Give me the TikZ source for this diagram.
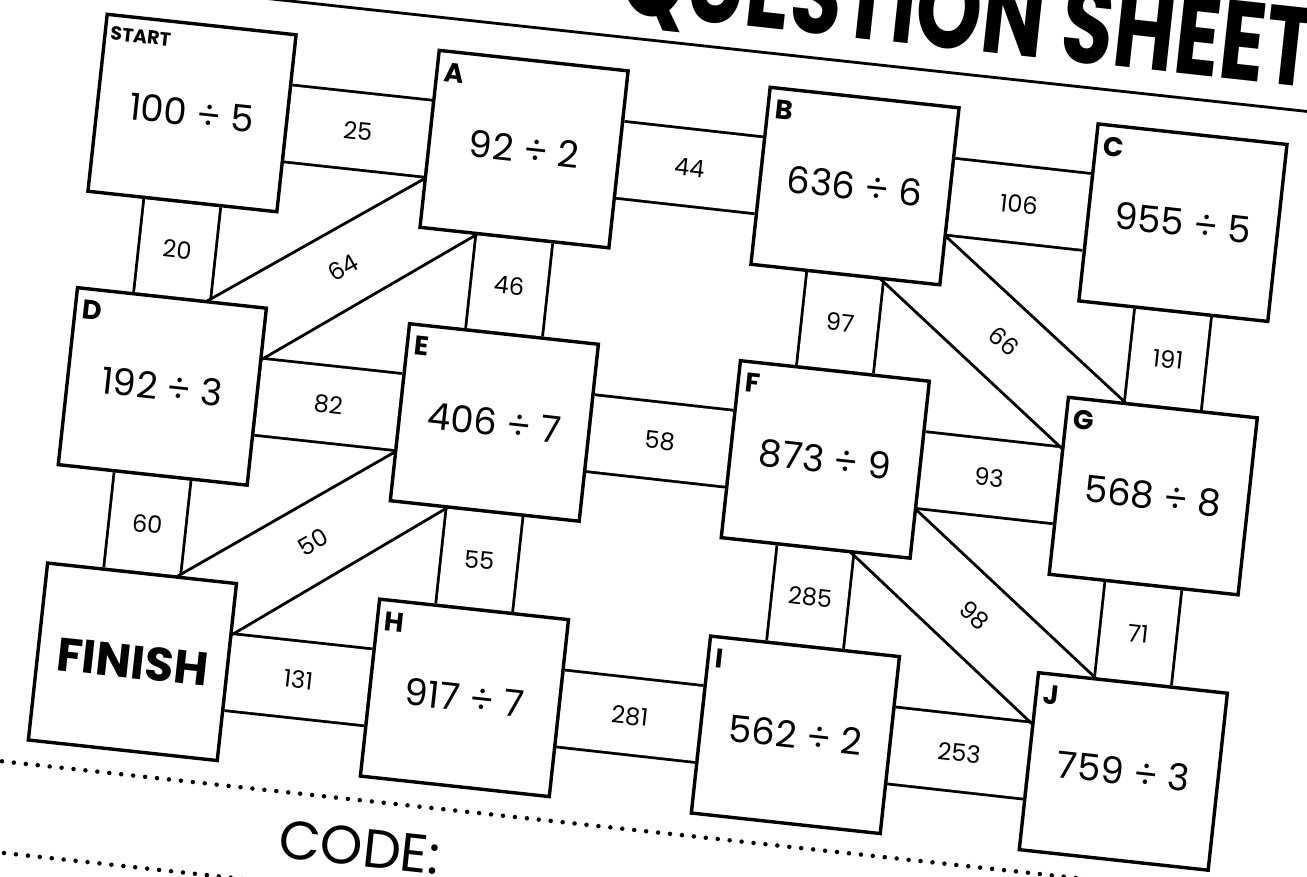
\documentclass[tikz,border=0pt]{standalone}
\usepackage{fontspec}
\setmainfont{Poppins}
\usetikzlibrary{calc, backgrounds}

\begin{document}
\begin{tikzpicture}[x=1pt, y=1pt,
  box/.style={rectangle, draw, fill=white, line width=3.4pt,
    minimum width=190pt, minimum height=178pt, inner sep=0pt,
    font=\fontsize{37}{40}\selectfont},
  tag/.style={anchor=north west, inner sep=0pt, xshift=9pt, yshift=-13pt,
    font=\bfseries\fontsize{27}{30}\selectfont},
  bar/.style={draw, line width=2.8pt, double=white, double distance=74.5pt},
  slant/.style={draw, fill=white, line width=2.8pt},
  num/.style={inner sep=0pt, font=\fontsize{24}{26}\selectfont},
  dots/.style={line width=4.5pt, line cap=round, dash pattern=on 0pt off 12pt}
]
  \path[use as bounding box] (0,0) rectangle (1307,-876);
  \clip (0,0) rectangle (1307,-876);
  \begin{scope}[shift={(107.3,-13.3)}, rotate=-6.2, transform shape]
    % heading of the sheet
    \node[anchor=base, inner sep=0pt, xscale=.75,
      font=\bfseries\fontsize{112}{112}\selectfont] (title) at (856,56) {QUESTION SHEET};
    \draw[line width=2.8pt] (-300,32) -- (1500,32);

    % question boxes
    \node[box] (S) at (95,-90) {100 ÷ 5};
    \node[box] (A) at (429,-90) {92 ÷ 2};
    \node[box] (B) at (762,-91) {636 ÷ 6};
    \node[box] (C) at (1092,-92) {955 ÷ 5};
    \node[box] (D) at (95,-365) {192 ÷ 3};
    \node[box] (E) at (429,-365) {406 ÷ 7};
    \node[box] (F) at (762,-366) {873 ÷ 9};
    \node[box] (G) at (1092,-367) {568 ÷ 8};
    \node[box, font=\bfseries\fontsize{47}{50}\selectfont] (fin) at (95,-642) {FINISH};
    \node[box] (H) at (429,-642) {917 ÷ 7};
    \node[box] (I) at (762,-643) {562 ÷ 2};
    \node[box] (J) at (1092,-644) {759 ÷ 3};

    \node[tag, font=\bfseries\fontsize{19}{20}\selectfont, xshift=-2pt] (tS) at (S.north west) {START};
    \node[tag] (tA) at (A.north west) {A};
    \node[tag] (tB) at (B.north west) {B};
    \node[tag] (tC) at (C.north west) {C};
    \node[tag] (tD) at (D.north west) {D};
    \node[tag] (tE) at (E.north west) {E};
    \node[tag] (tF) at (F.north west) {F};
    \node[tag] (tG) at (G.north west) {G};
    \node[tag] (tH) at (H.north west) {H};
    \node[tag] (tI) at (I.north west) {I};
    \node[tag] (tJ) at (J.north west) {J};

    % answer strips between the boxes
    \begin{scope}[on background layer]
      \draw[bar] (S) -- node[num] (n25) {25} (A);
      \draw[bar] (A) -- node[num] (n44) {44} (B);
      \draw[bar] (B) -- node[num] (n106) {106} (C);
      \draw[bar] (D) -- node[num] (n82) {82} (E);
      \draw[bar] (E) -- node[num] (n58) {58} (F);
      \draw[bar] (F) -- node[num] (n93) {93} (G);
      \draw[bar] (fin) -- node[num] (n131) {131} (H);
      \draw[bar] (H) -- node[num] (n281) {281} (I);
      \draw[bar] (I) -- node[num] (n253) {253} (J);
      \draw[bar] (S) -- node[num] (n20) {20} (D);
      \draw[bar] (A) -- node[num] (n46) {46} (E);
      \draw[bar] (B) -- node[num] (n97) {97} (F);
      \draw[bar] (C) -- node[num] (n191) {191} (G);
      \draw[bar] (D) -- node[num] (n60) {60} (fin);
      \draw[bar] (E) -- node[num] (n55) {55} (H);
      \draw[bar] (F) -- node[num] (n285) {285} (I);
      \draw[bar] (G) -- node[num] (n71) {71} (J);

      % slanted strips
      \draw[slant] ($(A.south west)!.275!(A.north west)$) -- ($(D.north west)!.69!(D.north east)$)
        -- ($(D.north east)!.29!(D.south east)$) -- ($(A.south west)!.3!(A.south east)$) -- cycle;
      \draw[slant] ($(E.south west)!.275!(E.north west)$) -- ($(fin.north west)!.69!(fin.north east)$)
        -- ($(fin.north east)!.29!(fin.south east)$) -- ($(E.south west)!.3!(E.south east)$) -- cycle;
      \draw[slant] ($(B.south west)!.69!(B.south east)$) -- ($(G.north west)!.29!(G.south west)$)
        -- ($(G.north west)!.3!(G.north east)$) -- ($(B.south east)!.275!(B.north east)$) -- cycle;
      \draw[slant] ($(F.south west)!.69!(F.south east)$) -- ($(J.north west)!.29!(J.south west)$)
        -- ($(J.north west)!.3!(J.north east)$) -- ($(F.south east)!.275!(F.north east)$) -- cycle;
      \node[num, rotate=36] (n64) at ($(A.south west)!.5!(D.north east)$) {64};
      \node[num, rotate=36] (n50) at ($(E.south west)!.5!(fin.north east)$) {50};
      \node[num, rotate=-37] (n66) at ($(B.south east)!.5!(G.north west)$) {66};
      \node[num, rotate=-37] (n98) at ($(F.south east)!.5!(J.north west)$) {98};
    \end{scope}

    % answer line
    \draw[dots] (-300,-755) -- (1500,-755);
    \draw[dots] (-300,-846) -- (1500,-846);
    \node[inner sep=0pt, font=\fontsize{54}{56}\selectfont] (code) at (341,-802) {CODE:};
  \end{scope}
\end{tikzpicture}
\end{document}
